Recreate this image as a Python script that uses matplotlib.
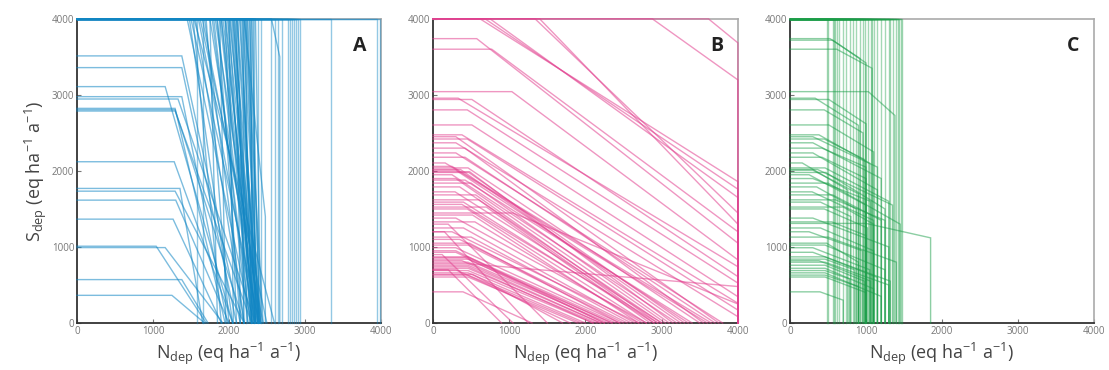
import matplotlib
matplotlib.use("Agg")
import matplotlib.pyplot as plt

plt.rcParams["font.family"] = ["Open Sans", "DejaVu Sans"]
plt.rcParams["mathtext.default"] = "regular"

# Each critical-load line: horizontal at s_top from 0 to n_knee,
# then straight down to (n_end, s_end), then vertical to (n_end, 0).

# ---- Panel A ----
A_level_s = [3513, 3359, 3109, 2977, 2946, 2823, 2805, 2788, 2121, 1770, 1734, 1616, 1366, 1010, 992, 571, 364]
A_level_knee = [1380, 1380, 1161, 1380, 1330, 1292, 1292, 1292, 1280, 1355, 1292, 1300, 1265, 1043, 1161, 1380, 1250]
A_level_end = [2150, 2100, 2050, 1980, 2350, 1950, 2200, 2300, 2050, 1655, 2200, 2000, 1900, 1700, 1920, 1725, 1680]

A_top_knee = [1450, 1480, 1500, 1530, 1560, 1600, 1650, 1700, 1750, 1800, 1820, 1850, 1880,
              1900, 1920, 1950, 1980, 2000, 2020, 2050, 2080, 2100, 2120, 2150, 2180, 2200,
              2220, 2250, 2280, 2300, 2320, 2350, 1880, 1750, 2000, 2100, 1950, 2060, 1620, 1540,
              1840, 1900, 1960, 2010, 2040, 2070, 2110, 2140, 2170, 2210, 2240, 2270, 1780, 1680]
A_top_end = [2300, 2050, 2400, 1900, 2200, 2350, 2450, 2000, 2380, 2250, 2420, 2150, 2350,
             2300, 2400, 2100, 2380, 2250, 2350, 2420, 2300, 2380, 2200, 2350, 2400, 2300,
             2450, 2380, 2320, 2400, 2350, 2420, 1960, 1850, 2060, 2150, 2330, 2280, 2500, 2600,
             2310, 2360, 2330, 2390, 2300, 2340, 2400, 2370, 2310, 2390, 2350, 2410, 2280, 2200]

A_vertical_n = [1580, 1660, 2180, 2230, 2290, 2330, 2380, 2420, 2560, 2610, 2650, 2700,
                2780, 2800, 2830, 2860, 2880, 2910, 2940, 3350, 3950, 3990]

A_bend_knee = [2200, 2560]
A_bend_end = [2480, 2670]
A_bend_s = [1400, 3500]

# ---- Panel B ----
B_top_knee = [618, 683, 749, 1340, 1400, 2878, 3614]
B_top_s_right = [1859, 1760, 1650, 1447, 1300, 3197, 3684]

B_level_s = [3740, 3601, 3043, 2957, 2940, 2803, 2605, 2475, 2420, 2370, 2237, 2180, 2105,
             2040, 2010, 1980, 1950, 1840, 1790, 1725, 1685, 1590, 1525, 1447, 1380, 1330,
             1200, 1130, 1025, 990, 870, 840, 800, 760, 720, 690, 660, 630, 605, 410,
             1300, 1200, 900, 700, 2060, 1880, 1560, 950, 780,
             2450, 2300, 2020, 1990, 1900, 1620, 1500, 1420, 1250, 1100, 1050, 930, 860,
             820, 740, 700, 640]
B_level_knee = [574, 771, 1035, 330, 510, 450, 510, 380, 450, 300, 300, 420, 160,
                460, 300, 470, 250, 500, 350, 290, 560, 400, 700, 1050, 300, 550,
                250, 500, 460, 300, 460, 460, 460, 460, 460, 460, 460, 460, 460, 394,
                200, 150, 120, 200, 250, 420, 380, 300, 460,
                300, 420, 360, 480, 300, 600, 450, 520, 400, 350, 480, 300, 420,
                380, 460, 300, 520]
B_level_end = [4000, 4000, 4000, 4000, 4000, 4000, 4000, 4000, 4000, 4000, 3800, 3700, 3600,
               3500, 3350, 3300, 3200, 3100, 3000, 3000, 2950, 2900, 2850, 4000, 2800, 2750,
               2700, 2600, 2500, 2450, 2400, 2350, 2300, 2200, 2150, 2100, 2000, 1950, 1900, 1300,
               1500, 1250, 1050, 900, 3650, 3400, 2950, 2250, 4000,
               3750, 3550, 3250, 3150, 3050, 2900, 2800, 2700, 2650, 2550, 2450, 2350, 2250,
               2200, 2100, 1800, 1700]
B_level_s_end = [1050, 1200, 830, 740, 610, 525, 346, 260, 170, 83, 0, 0, 0,
                 0, 0, 0, 0, 0, 0, 0, 0, 0, 0, 250, 0, 0,
                 0, 0, 0, 0, 0, 0, 0, 0, 0, 0, 0, 0, 0, 0,
                 0, 0, 0, 0, 0, 0, 0, 0, 480,
                 0, 0, 0, 0, 0, 0, 0, 0, 0, 0, 0, 0, 0,
                 0, 0, 0, 0]

# ---- Panel C ----
C_vertical_n = [482, 500, 560, 575, 590, 620, 650, 700, 740, 790, 830, 870, 920, 960, 990,
                1020, 1060, 1080, 1110, 1150, 1200, 1250, 1300, 1320, 1350, 1400, 1420, 1440,
                1460, 1480]

C_level_s = [3740, 3720, 3601, 3043, 2957, 2940, 2803, 2605, 2475, 2420, 2370, 2237, 2180,
             2105, 2040, 2010, 1980, 1950, 1840, 1790, 1725, 1685, 1590, 1525, 1310, 1380,
             1330, 1200, 1130, 1025, 990, 870, 840, 800, 760, 720, 690, 660, 630, 605, 410,
             2450, 2300, 2020, 1900, 1620, 1500, 1250, 1050, 930, 820]
C_level_knee = [526, 560, 614, 1030, 330, 510, 450, 510, 380, 450, 300, 300, 420,
                160, 460, 300, 470, 250, 500, 350, 290, 560, 400, 700, 1000, 300,
                550, 250, 500, 460, 300, 460, 460, 460, 460, 460, 460, 460, 460, 460, 394,
                300, 420, 360, 300, 600, 450, 400, 480, 300, 380]
C_level_end = [920, 1000, 1080, 1380, 900, 1000, 960, 1100, 1050, 980, 1200, 1150, 1000,
               760, 1300, 900, 1250, 1000, 1450, 870, 1100, 1200, 800, 1100, 1850, 1300,
               1000, 950, 1400, 1250, 1050, 1150, 850, 1300, 980, 1100, 780, 1200, 900, 1000, 700,
               1150, 1000, 1350, 1060, 1250, 1020, 1100, 900, 1320, 1060]
C_level_s_end = [3480, 3420, 3350, 2730, 2600, 2620, 2500, 2250, 2100, 2150, 1900, 1750, 1900,
                 1750, 1600, 1700, 1500, 1550, 1300, 1500, 1350, 1350, 1400, 1300, 1120, 1000,
                 1150, 950, 800, 700, 700, 600, 700, 500, 550, 450, 580, 350, 480, 400, 300,
                 2050, 2050, 1550, 1600, 1350, 1250, 950, 800, 550, 550]

TICKS = [0, 1000, 2000, 3000, 4000]
XLABEL = "N$_{dep}$ (eq ha$^{-1}$ a$^{-1}$)"
YLABEL = "S$_{dep}$ (eq ha$^{-1}$ a$^{-1}$)"


def draw_lines(ax, s_top, n_knee, n_end, s_end, color, alpha=0.55):
    for s, nk, ne, se in zip(s_top, n_knee, n_end, s_end):
        ax.plot([0, nk, ne, ne], [s, s, se, 0], color=color, lw=1.0,
                alpha=alpha, clip_on=False, zorder=3, solid_joinstyle="miter")


def style_axes(ax, letter):
    ax.set_xlim(0, 4000)
    ax.set_ylim(0, 4000)
    ax.set_xticks(TICKS)
    ax.set_yticks(TICKS)
    ax.tick_params(direction="in", length=3, width=0.8, labelsize=7,
                   colors="#777777", pad=2)
    for side in ("left", "bottom"):
        ax.spines[side].set_color("#333333")
        ax.spines[side].set_linewidth(1.3)
    for side in ("top", "right"):
        ax.spines[side].set_color("#aaaaaa")
        ax.spines[side].set_linewidth(1.2)
    ax.set_xlabel(XLABEL, fontsize=13, color="#444444", labelpad=3)
    ax.text(0.93, 0.91, letter, transform=ax.transAxes, ha="center", va="center",
            fontsize=14, fontweight="bold", color="#222222", zorder=5)


fig = plt.figure(figsize=(11.09, 3.70), dpi=100)
axA = fig.add_axes([0.0694, 0.127, 0.274, 0.822])
axB = fig.add_axes([0.3904, 0.127, 0.275, 0.822])
axC = fig.add_axes([0.7124, 0.127, 0.274, 0.822])

blue = "#1186c4"
pink = "#e2408f"
green = "#1a9e48"

# Panel A
draw_lines(axA, A_level_s, A_level_knee, A_level_end, [0] * len(A_level_s), blue)
draw_lines(axA, [4000] * len(A_top_knee), A_top_knee, A_top_end, [0] * len(A_top_knee), blue)
draw_lines(axA, [4000] * len(A_vertical_n), A_vertical_n, A_vertical_n,
           [4000] * len(A_vertical_n), blue, alpha=0.45)
draw_lines(axA, [4000] * len(A_bend_knee), A_bend_knee, A_bend_end, A_bend_s, blue)
style_axes(axA, "A")
axA.set_ylabel(YLABEL, fontsize=13, color="#444444", labelpad=2)

# Panel B
draw_lines(axB, [4000] * len(B_top_knee), B_top_knee, [4000] * len(B_top_knee), B_top_s_right, pink)
draw_lines(axB, B_level_s, B_level_knee, B_level_end, B_level_s_end, pink)
style_axes(axB, "B")

# Panel C
draw_lines(axC, [4000] * len(C_vertical_n), C_vertical_n, C_vertical_n,
           [4000] * len(C_vertical_n), green, alpha=0.4)
draw_lines(axC, C_level_s, C_level_knee, C_level_end, C_level_s_end, green, alpha=0.5)
style_axes(axC, "C")

fig.savefig("out.png", dpi=100)
